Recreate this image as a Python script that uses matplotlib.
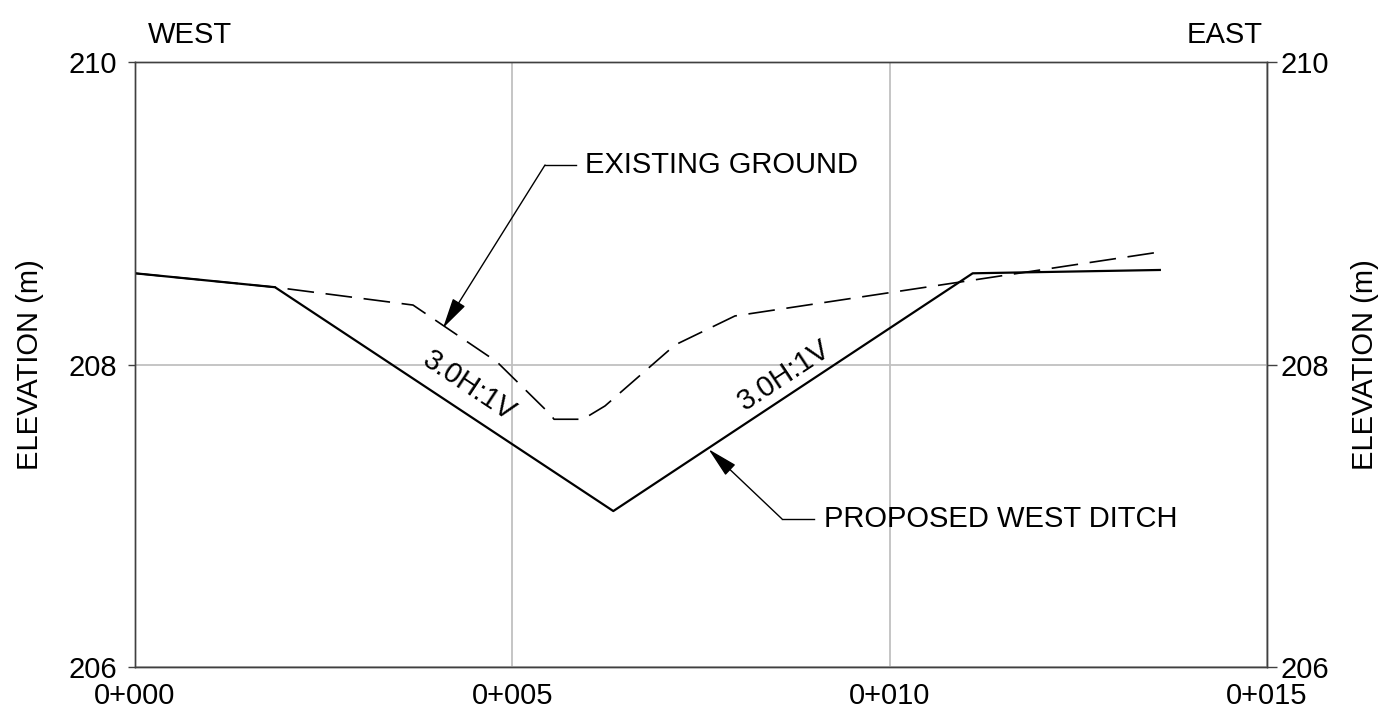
import matplotlib
matplotlib.use('Agg')
import matplotlib.pyplot as plt

plt.rcParams['font.family'] = ['Liberation Sans', 'DejaVu Sans']

# chainage (m) and elevation (m)
groundX = [0.0, 1.855, 3.684, 4.797, 5.512, 5.552, 5.936, 6.228, 7.155, 7.950, 13.58]
groundY = [208.603, 208.511, 208.393, 208.017, 207.666, 207.638, 207.638, 207.726, 208.129, 208.321, 208.744]

ditchX = [0.0, 1.855, 6.338, 11.10, 13.58]
ditchY = [208.603, 208.511, 207.031, 208.603, 208.625]

xTicks = [0, 5, 10, 15]
xTickLabels = ['0+000', '0+005', '0+010', '0+015']
yTicks = [206, 208, 210]
yTickLabels = ['206', '208', '210']

slopeLabel = '3.0H:1V'
FS = 21

fig = plt.figure(figsize=(13.85, 7.19), dpi=100)
ax = fig.add_axes([0.09747, 0.07232, 0.81733, 0.84145])
ax.set_xlim(0, 15)
ax.set_ylim(206, 210)

# grid
ax.set_xticks(xTicks)
ax.set_xticklabels(xTickLabels, fontsize=FS)
ax.set_yticks(yTicks)
ax.set_yticklabels(yTickLabels, fontsize=FS)
ax.grid(True, color='#c0c0c0', lw=1.3)
ax.tick_params(axis='x', length=0, pad=10.5)
ax.tick_params(axis='y', length=5, width=1, color='#404040', pad=8, direction='out')

ax2 = ax.twinx()
ax2.set_ylim(206, 210)
ax2.set_yticks(yTicks)
ax2.set_yticklabels(yTickLabels, fontsize=FS)
ax2.tick_params(axis='y', length=7, width=1, color='#404040', pad=3, direction='out')

for a in (ax, ax2):
    for s in a.spines.values():
        s.set_color('#404040')
        s.set_linewidth(1.0)

# profiles
ax.plot(groundX, groundY, color='black', lw=1.2, dashes=(16, 7), zorder=3)
ax.plot(ditchX, ditchY, color='black', lw=1.6, zorder=4)

# slope labels
ax.text(4.426, 207.858, slopeLabel, fontsize=FS, rotation=-33.5,
        ha='center', va='center', rotation_mode='anchor', zorder=5)
ax.text(8.60, 207.93, slopeLabel, fontsize=FS, rotation=33.5,
        ha='center', va='center', rotation_mode='anchor', zorder=5)

# leaders
arrow = dict(arrowstyle='-|>,head_length=1.9,head_width=0.45', color='black',
             lw=1.0, shrinkA=0, shrinkB=0, mutation_scale=10)

ax.plot([5.433, 5.843], [209.319, 209.319], color='black', lw=1.0)
ax.annotate('', xy=(4.081, 208.241), xytext=(5.433, 209.319), arrowprops=arrow, zorder=6)
ax.text(5.963, 209.319, 'EXISTING GROUND', fontsize=FS, ha='left', va='center')

ax.plot([8.573, 8.997], [206.979, 206.979], color='black', lw=1.0)
ax.annotate('', xy=(7.60, 207.44), xytext=(8.573, 206.979), arrowprops=arrow, zorder=6)
ax.text(9.130, 206.979, 'PROPOSED WEST DITCH', fontsize=FS, ha='left', va='center')

# direction and axis labels
ax.text(0.0115, 1.0446, 'WEST', fontsize=FS, ha='left', va='center', transform=ax.transAxes)
ax.text(0.9965, 1.0446, 'EAST', fontsize=FS, ha='right', va='center', transform=ax.transAxes)
ax.text(-0.0928, 0.5, 'ELEVATION (m)', fontsize=FS, rotation=90, ha='center', va='center',
        transform=ax.transAxes)
ax.text(1.0866, 0.5, 'ELEVATION (m)', fontsize=FS, rotation=90, ha='center', va='center',
        transform=ax.transAxes)

fig.savefig('out.png', dpi=100)
